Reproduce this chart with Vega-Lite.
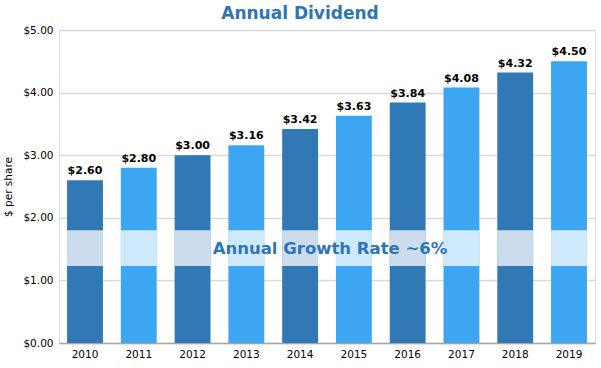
{
  "$schema": "https://vega.github.io/schema/vega-lite/v6.json",
  "autosize": {"type": "none"},
  "padding": {"left": 59, "top": 30, "right": 6, "bottom": 25},
  "width": 536,
  "height": 313,
  "background": "white",
  "title": {
    "text": "Annual Dividend",
    "font": "DejaVu Sans",
    "fontSize": 17,
    "fontWeight": "bold",
    "color": "#2E75B6",
    "anchor": "middle",
    "dx": -27,
    "offset": 2
  },
  "data": {
    "values": [
      {"year": "2010", "dividend": 2.60, "shade": "A"},
      {"year": "2011", "dividend": 2.80, "shade": "B"},
      {"year": "2012", "dividend": 3.00, "shade": "A"},
      {"year": "2013", "dividend": 3.16, "shade": "B"},
      {"year": "2014", "dividend": 3.42, "shade": "A"},
      {"year": "2015", "dividend": 3.63, "shade": "B"},
      {"year": "2016", "dividend": 3.84, "shade": "A"},
      {"year": "2017", "dividend": 4.08, "shade": "B"},
      {"year": "2018", "dividend": 4.32, "shade": "A"},
      {"year": "2019", "dividend": 4.50, "shade": "B"}
    ]
  },
  "encoding": {
    "x": {
      "field": "year",
      "type": "nominal",
      "scale": {"paddingInner": 0.333, "paddingOuter": 0.15},
      "axis": {
        "title": null,
        "labelAngle": 0,
        "labelFont": "DejaVu Sans",
        "labelFontSize": 10.5,
        "labelColor": "#000000",
        "labelPadding": 6,
        "ticks": false,
        "domainColor": "#A6A6A6",
        "domainWidth": 1.5
      }
    }
  },
  "layer": [
    {
      "mark": {"type": "bar"},
      "encoding": {
        "y": {
          "field": "dividend",
          "type": "quantitative",
          "scale": {"domain": [0, 5]},
          "axis": {
            "title": "$ per share",
            "titleFont": "DejaVu Sans",
            "titleFontSize": 10.5,
            "titleFontWeight": "normal",
            "titleColor": "#000000",
            "titlePadding": 9,
            "values": [0, 1, 2, 3, 4, 5],
            "format": "$.2f",
            "labelFont": "DejaVu Sans",
            "labelFontSize": 10.5,
            "labelColor": "#000000",
            "labelPadding": 6,
            "domain": false,
            "ticks": false,
            "gridColor": "#D9D9D9",
            "gridWidth": 1.3
          }
        },
        "color": {
          "field": "shade",
          "type": "nominal",
          "scale": {"domain": ["A", "B"], "range": ["#3179B5", "#3DA6F2"]},
          "legend": null
        }
      }
    },
    {
      "mark": {"type": "text", "dy": -9, "font": "DejaVu Sans", "fontSize": 11, "fontWeight": "bold", "color": "#000000"},
      "encoding": {
        "y": {"field": "dividend", "type": "quantitative"},
        "text": {"field": "dividend", "type": "quantitative", "format": "$.2f"}
      }
    },
    {
      "mark": {"type": "bar", "color": "white", "opacity": 0.75},
      "encoding": {
        "y": {"datum": 1.23},
        "y2": {"datum": 1.8}
      }
    },
    {
      "data": {"values": [{"label": "Annual Growth Rate ~6%"}]},
      "mark": {"type": "text", "font": "DejaVu Sans", "fontSize": 16.5, "fontWeight": "bold", "color": "#2E75B6", "dx": 1},
      "encoding": {
        "x": {"value": 270},
        "y": {"datum": 1.5},
        "text": {"field": "label"}
      }
    }
  ]
}
